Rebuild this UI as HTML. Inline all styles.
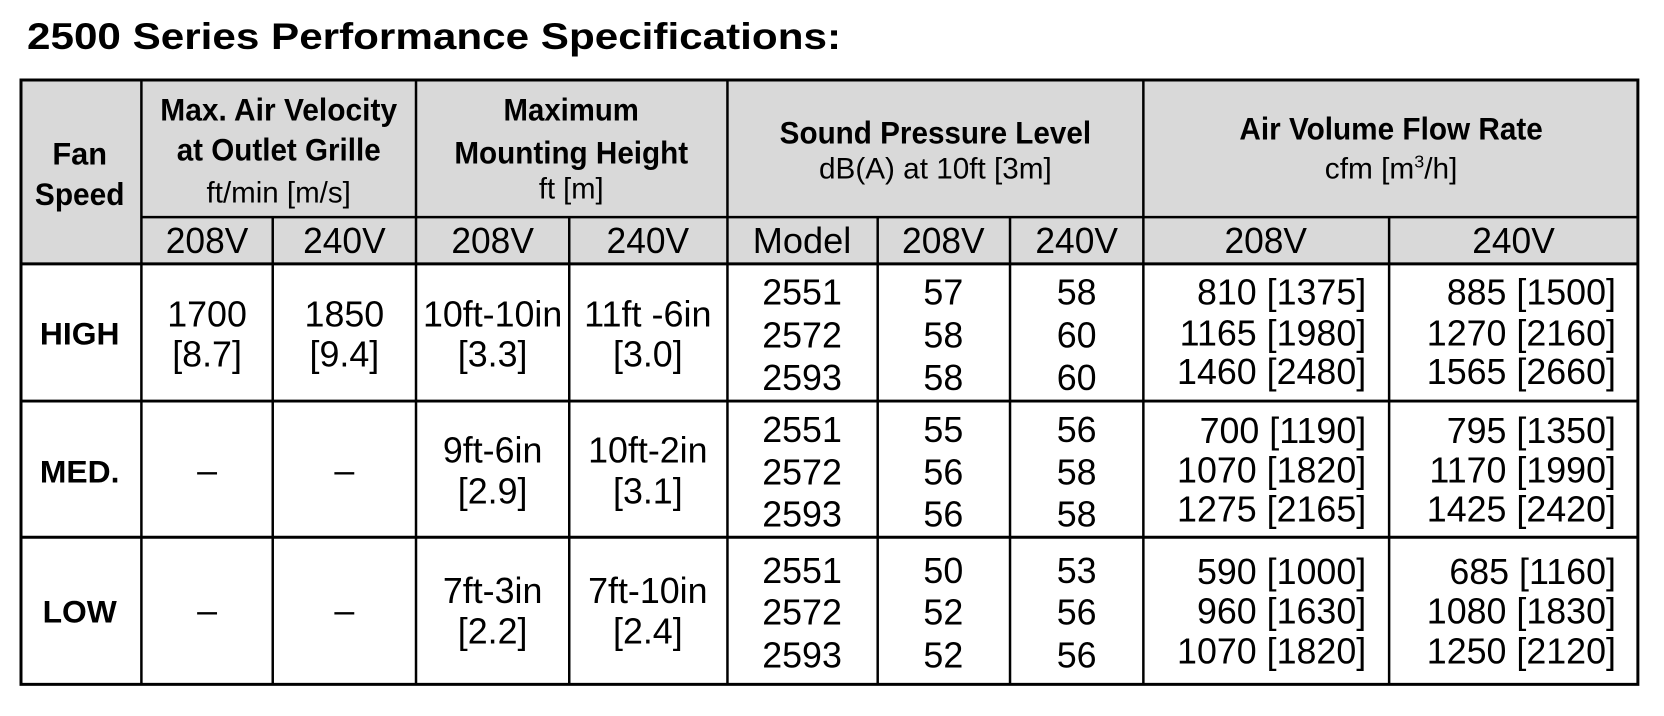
<!DOCTYPE html>
<html><head><meta charset="utf-8"><style>
html,body{margin:0;padding:0;background:#fff;}
svg{display:block;}
text{font-family:"Liberation Sans",Arial,sans-serif;fill:#000;}
.t{font-size:36px;text-anchor:middle;}
.r{font-size:36px;text-anchor:end;}
.b{font-size:32px;font-weight:bold;text-anchor:middle;}
.s{font-size:30px;text-anchor:middle;}
</style></head><body>
<svg width="1664" height="716" viewBox="0 0 1664 716" xmlns="http://www.w3.org/2000/svg">
<text x="27" y="49" font-size="37" font-weight="bold" textLength="814" lengthAdjust="spacingAndGlyphs">2500 Series Performance Specifications:</text>
<g transform="translate(21,80) scale(0.995,0.994) translate(-21,-80)">
<rect x="21" y="80" width="1625" height="185" fill="#d9d9d9"/>
<g stroke="#000" stroke-width="2.5" fill="none">
<rect x="21" y="80" width="1625" height="608" stroke-width="3"/>
<line x1="142" y1="218" x2="1646" y2="218"/>
<line x1="21" y1="265" x2="1646" y2="265" stroke-width="3"/>
<line x1="21" y1="403" x2="1646" y2="403" stroke-width="3"/>
<line x1="21" y1="540" x2="1646" y2="540" stroke-width="3"/>
<line x1="142" y1="80" x2="142" y2="688"/>
<line x1="418" y1="80" x2="418" y2="688"/>
<line x1="731" y1="80" x2="731" y2="688"/>
<line x1="1149" y1="80" x2="1149" y2="688"/>
<line x1="274" y1="218" x2="274" y2="688"/>
<line x1="572" y1="218" x2="572" y2="688"/>
<line x1="882" y1="218" x2="882" y2="688"/>
<line x1="1015" y1="218" x2="1015" y2="688"/>
<line x1="1396" y1="218" x2="1396" y2="688"/>
</g>
<text class="b" x="80" y="165" textLength="55" lengthAdjust="spacingAndGlyphs">Fan</text>
<text class="b" x="80" y="206" textLength="90" lengthAdjust="spacingAndGlyphs">Speed</text>
<text class="b" x="280" y="121" textLength="238" lengthAdjust="spacingAndGlyphs">Max. Air Velocity</text>
<text class="b" x="280" y="161" textLength="205" lengthAdjust="spacingAndGlyphs">at Outlet Grille</text>
<text class="s" x="280" y="203" textLength="145" lengthAdjust="spacingAndGlyphs">ft/min [m/s]</text>
<text class="b" x="574" y="121" textLength="136" lengthAdjust="spacingAndGlyphs">Maximum</text>
<text class="b" x="574" y="164" textLength="235" lengthAdjust="spacingAndGlyphs">Mounting Height</text>
<text class="s" x="574" y="199" textLength="65" lengthAdjust="spacingAndGlyphs">ft [m]</text>
<text class="b" x="940" y="144" textLength="313" lengthAdjust="spacingAndGlyphs">Sound Pressure Level</text>
<text class="s" x="940" y="179" textLength="234" lengthAdjust="spacingAndGlyphs">dB(A) at 10ft [3m]</text>
<text class="b" x="1398" y="140" textLength="305" lengthAdjust="spacingAndGlyphs">Air Volume Flow Rate</text>
<text class="s" x="1398" y="179">cfm [m<tspan font-size="18" dy="-11">3</tspan><tspan dy="11">/h]</tspan></text>
<text class="t" x="208" y="254" textLength="83" lengthAdjust="spacingAndGlyphs">208V</text>
<text class="t" x="346" y="254" textLength="83" lengthAdjust="spacingAndGlyphs">240V</text>
<text class="t" x="495" y="254" textLength="83" lengthAdjust="spacingAndGlyphs">208V</text>
<text class="t" x="651" y="254" textLength="83" lengthAdjust="spacingAndGlyphs">240V</text>
<text class="t" x="806" y="254" textLength="99" lengthAdjust="spacingAndGlyphs">Model</text>
<text class="t" x="948" y="254" textLength="83" lengthAdjust="spacingAndGlyphs">208V</text>
<text class="t" x="1082" y="254" textLength="83" lengthAdjust="spacingAndGlyphs">240V</text>
<text class="t" x="1272" y="254" textLength="83" lengthAdjust="spacingAndGlyphs">208V</text>
<text class="t" x="1521" y="254" textLength="83" lengthAdjust="spacingAndGlyphs">240V</text>
<text class="b" x="80" y="346">HIGH</text>
<text class="t" x="208" y="328">1700</text><text class="t" x="208" y="368">[8.7]</text>
<text class="t" x="346" y="328">1850</text><text class="t" x="346" y="368">[9.4]</text>
<text class="t" x="495" y="328" textLength="140" lengthAdjust="spacingAndGlyphs">10ft-10in</text><text class="t" x="495" y="368">[3.3]</text>
<text class="t" x="651" y="328" textLength="128" lengthAdjust="spacingAndGlyphs">11ft -6in</text><text class="t" x="651" y="368">[3.0]</text>
<text class="t" x="806" y="306">2551</text><text class="t" x="806" y="349">2572</text><text class="t" x="806" y="392">2593</text>
<text class="t" x="948" y="306">57</text><text class="t" x="948" y="349">58</text><text class="t" x="948" y="392">58</text>
<text class="t" x="1082" y="306">58</text><text class="t" x="1082" y="349">60</text><text class="t" x="1082" y="392">60</text>
<text class="r" x="1373" y="306">810 [1375]</text><text class="r" x="1373" y="347">1165 [1980]</text><text class="r" x="1373" y="386">1460 [2480]</text>
<text class="r" x="1624" y="306">885 [1500]</text><text class="r" x="1624" y="347">1270 [2160]</text><text class="r" x="1624" y="386">1565 [2660]</text>
<text class="b" x="80" y="485">MED.</text>
<text class="t" x="208" y="485">–</text><text class="t" x="346" y="485">–</text>
<text class="t" x="495" y="465">9ft-6in</text><text class="t" x="495" y="506">[2.9]</text>
<text class="t" x="651" y="465">10ft-2in</text><text class="t" x="651" y="506">[3.1]</text>
<text class="t" x="806" y="444">2551</text><text class="t" x="806" y="487">2572</text><text class="t" x="806" y="529">2593</text>
<text class="t" x="948" y="444">55</text><text class="t" x="948" y="487">56</text><text class="t" x="948" y="529">56</text>
<text class="t" x="1082" y="444">56</text><text class="t" x="1082" y="487">58</text><text class="t" x="1082" y="529">58</text>
<text class="r" x="1373" y="445">700 [1190]</text><text class="r" x="1373" y="485">1070 [1820]</text><text class="r" x="1373" y="524">1275 [2165]</text>
<text class="r" x="1624" y="445">795 [1350]</text><text class="r" x="1624" y="485">1170 [1990]</text><text class="r" x="1624" y="524">1425 [2420]</text>
<text class="b" x="80" y="626">LOW</text>
<text class="t" x="208" y="626">–</text><text class="t" x="346" y="626">–</text>
<text class="t" x="495" y="606">7ft-3in</text><text class="t" x="495" y="647">[2.2]</text>
<text class="t" x="651" y="606">7ft-10in</text><text class="t" x="651" y="647">[2.4]</text>
<text class="t" x="806" y="586">2551</text><text class="t" x="806" y="628">2572</text><text class="t" x="806" y="671">2593</text>
<text class="t" x="948" y="586">50</text><text class="t" x="948" y="628">52</text><text class="t" x="948" y="671">52</text>
<text class="t" x="1082" y="586">53</text><text class="t" x="1082" y="628">56</text><text class="t" x="1082" y="671">56</text>
<text class="r" x="1373" y="587">590 [1000]</text><text class="r" x="1373" y="627">960 [1630]</text><text class="r" x="1373" y="667">1070 [1820]</text>
<text class="r" x="1624" y="587">685 [1160]</text><text class="r" x="1624" y="627">1080 [1830]</text><text class="r" x="1624" y="667">1250 [2120]</text>
</g>
</svg>
</body></html>
